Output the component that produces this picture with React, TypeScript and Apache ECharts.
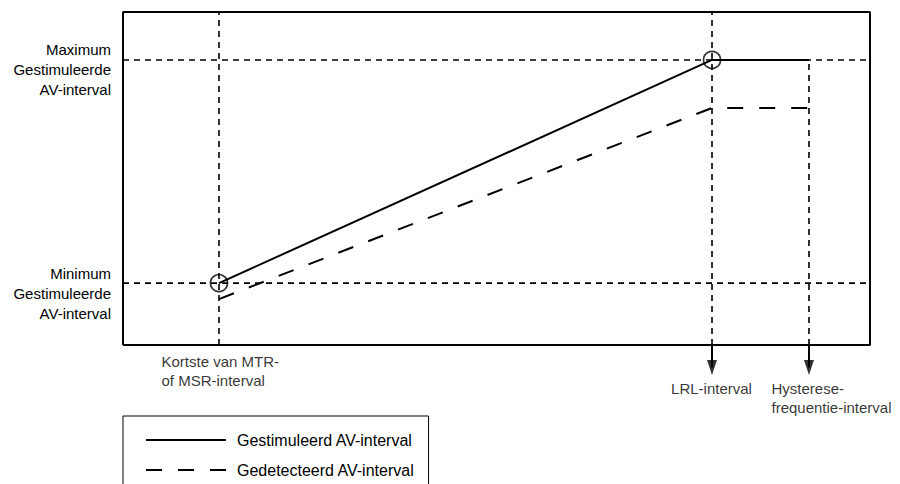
import React, { useEffect, useRef } from "react";
import * as echarts from "echarts";

// ---- data ----
const xCategoryLabels = [
  "Kortste van MTR-\nof MSR-interval",
  "LRL-interval",
  "Hysterese-\nfrequentie-interval",
];
const xPositions = [12.85, 78.85, 91.83];
const yLevelLabels = [
  "Minimum\nGestimuleerde\nAV-interval",
  "Maximum\nGestimuleerde\nAV-interval",
];
const yLevels = [18.6, 85.6];
const pacedAV = [18.6, 85.6, 85.6];
const sensedAV = [13.8, 71.2, 71.2];
const legendNames = ["Gestimuleerd AV-interval", "Gedetecteerd AV-interval"];

const FONT = "'Liberation Sans', Arial, Helvetica, sans-serif";
const INK = "#000";

function buildOption() {
  const guide = { color: INK, width: 1.6, type: [6, 5] as number[] };
  const lineSeries = (name: string, data: number[][], lineStyle: any, z = 2) => ({
    type: "line",
    name,
    data,
    symbol: "none",
    clip: false,
    silent: true,
    z,
    lineStyle,
  });

  const series: any[] = [];
  // frame
  series.push(
    lineSeries(
      "frame",
      [
        [0, 0],
        [100, 0],
        [100, 100],
        [0, 100],
        [0, 0],
      ],
      { color: INK, width: 2, type: "solid" },
      3
    )
  );
  // vertical guides
  series.push(lineSeries("g1", [[xPositions[0], 0], [xPositions[0], 100]], guide));
  series.push(lineSeries("g2", [[xPositions[1], 0], [xPositions[1], 100]], guide));
  series.push(lineSeries("g3", [[xPositions[2], 0], [xPositions[2], yLevels[1]]], guide));
  // horizontal guides
  yLevels.forEach((lv, i) => series.push(lineSeries("h" + i, [[0, lv], [100, lv]], guide)));

  // paced (solid)
  series.push(
    lineSeries(
      legendNames[0],
      xPositions.map((x, i) => [x, pacedAV[i]]),
      { color: INK, width: 2, type: "solid" },
      4
    )
  );
  // sensed (dashed)
  series.push(
    lineSeries(
      legendNames[1],
      xPositions.map((x, i) => [x, sensedAV[i]]),
      { color: INK, width: 2, type: [16, 16] },
      4
    )
  );
  // circles
  series.push({
    type: "scatter",
    name: "markers",
    data: [
      [xPositions[0], pacedAV[0]],
      [xPositions[1], pacedAV[1]],
    ],
    symbol: "circle",
    symbolSize: 17,
    silent: true,
    z: 5,
    itemStyle: { color: "rgba(0,0,0,0)", borderColor: INK, borderWidth: 1.7 },
  });
  // arrows
  const arrowY = -6.75;
  [xPositions[1], xPositions[2]].forEach((x, i) => {
    series.push(lineSeries("arrow" + i, [[x, 0], [x, arrowY]], { color: INK, width: 2, type: "solid" }, 4));
  });
  series.push({
    type: "scatter",
    name: "arrowheads",
    data: [
      [xPositions[1], arrowY],
      [xPositions[2], arrowY],
    ],
    symbol: "triangle",
    symbolRotate: 180,
    symbolSize: [10, 15],
    clip: false,
    silent: true,
    z: 5,
    itemStyle: { color: INK },
  });
  // x labels
  const labelPlacement = [
    { position: [-57, 7], align: "left" },
    { position: [0, 34], align: "center" },
    { position: [-37, 34], align: "left" },
  ];
  series.push({
    type: "scatter",
    name: "xlabels",
    symbol: "circle",
    symbolSize: 1,
    clip: false,
    silent: true,
    itemStyle: { color: "rgba(0,0,0,0)" },
    data: xPositions.map((x, i) => ({
      value: [x, 0],
      label: {
        show: true,
        formatter: xCategoryLabels[i],
        position: labelPlacement[i].position,
        align: labelPlacement[i].align,
        verticalAlign: "top",
        fontSize: 15,
        lineHeight: 19,
        fontFamily: FONT,
        color: INK,
      },
    })),
  });

  return {
    animation: false,
    backgroundColor: "#fff",
    grid: { left: 123, right: 30, top: 12, bottom: 99, show: false },
    xAxis: {
      type: "value",
      min: 0,
      max: 100,
      show: false,
    },
    yAxis: {
      type: "value",
      min: -12,
      max: 100,
      axisLine: { show: false },
      axisTick: { show: false },
      splitLine: { show: false },
      axisLabel: {
        customValues: yLevels,
        formatter: (v: number) => {
          const idx = yLevels.findIndex((l) => Math.abs(l - v) < 1e-6);
          return idx >= 0 ? " \n" + yLevelLabels[idx] : "";
        },
        margin: 12,
        align: "right",
        fontSize: 15,
        lineHeight: 20,
        fontFamily: FONT,
        color: INK,
      },
    },
    legend: {
      data: legendNames,
      orient: "vertical",
      left: 123,
      top: 416,
      height: 80,
      padding: [16, 14, 30, 22],
      borderColor: INK,
      borderWidth: 1,
      backgroundColor: "#fff",
      itemWidth: 80,
      itemHeight: 14,
      itemGap: 14,
      selectedMode: false,
      itemStyle: { opacity: 0 },
      textStyle: {
        fontSize: 16,
        lineHeight: 14,
        fontFamily: FONT,
        color: INK,
        padding: [0, 0, 0, 6],
      },
    },
    series,
  };
}

export default function App() {
  const ref = useRef<HTMLDivElement>(null);
  useEffect(() => {
    if (!ref.current) return;
    const chart = echarts.init(ref.current, null, { renderer: "svg" });
    chart.setOption(buildOption() as any);
    return () => chart.dispose();
  }, []);
  return (
    <div
      ref={ref}
      style={{ position: "fixed", left: 0, top: 0, width: 900, height: 484, background: "#fff" }}
    />
  );
}
